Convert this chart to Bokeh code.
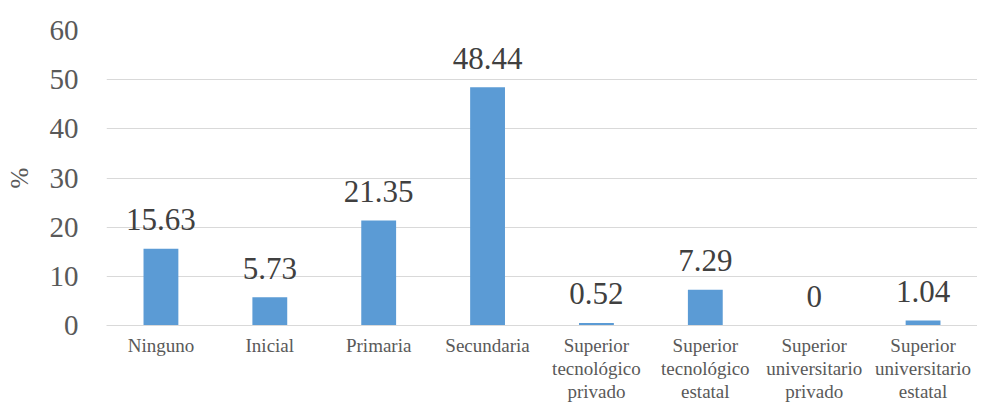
from bokeh.plotting import figure
from bokeh.models import ColumnDataSource, FactorRange, Range1d, SingleIntervalTicker
from bokeh.core.properties import value
from bokeh.embed import file_html
from bokeh.resources import INLINE

categories = ["Ninguno", "Inicial", "Primaria", "Secundaria",
              "Superior\ntecnológico\nprivado", "Superior\ntecnológico\nestatal",
              "Superior\nuniversitario\nprivado", "Superior\nuniversitario\nestatal"]
values = [15.63, 5.73, 21.35, 48.44, 0.52, 7.29, 0, 1.04]
labels = ["15.63", "5.73", "21.35", "48.44", "0.52", "7.29", "0", "1.04"]

FONT = "Liberation Serif"

src = ColumnDataSource(dict(cat=categories, val=values, lab=labels))

p = figure(x_range=FactorRange(*categories), y_range=Range1d(0, 60),
           width=977, height=404, output_backend="svg", toolbar_location=None,
           min_border_left=106, min_border_right=0, min_border_top=30, min_border_bottom=0)
p.outline_line_color = None
p.background_fill_color = "white"
p.border_fill_color = "white"

p.vbar(x="cat", top="val", width=0.32, source=src, fill_color="#5B9BD5", line_color=None)
p.text(x="cat", y="val", text="lab", source=src, text_font=value(FONT), text_font_size="31px",
       text_color="#404040", text_align="center", text_baseline="alphabetic", y_offset=-29)

p.x_range.range_padding = 0
p.yaxis.ticker = SingleIntervalTicker(interval=10)
p.ygrid.grid_line_color = "#d9d9d9"
p.ygrid.grid_line_width = 1
p.xgrid.grid_line_color = None

p.yaxis.axis_line_color = None
p.yaxis.major_tick_line_color = None
p.yaxis.minor_tick_line_color = None
p.yaxis.major_label_text_font = FONT
p.yaxis.major_label_text_font_size = "29px"
p.yaxis.major_label_text_color = "#595959"
p.yaxis.major_label_standoff = 22
p.yaxis.axis_label = "%"
p.yaxis.axis_label_text_font = FONT
p.yaxis.axis_label_text_font_size = "25px"
p.yaxis.axis_label_text_font_style = "normal"
p.yaxis.axis_label_text_color = "#595959"
p.yaxis.axis_label_standoff = 14

p.xaxis.axis_line_color = "#d9d9d9"
p.xaxis.major_tick_line_color = None
p.xaxis.minor_tick_line_color = None
p.xaxis.major_label_text_font = FONT
p.xaxis.major_label_text_font_size = "19px"
p.xaxis.major_label_text_color = "#595959"
p.xaxis.major_label_standoff = 3
p.xaxis.major_label_text_line_height = 1.1

open("out.html", "w").write(file_html(p, INLINE))
